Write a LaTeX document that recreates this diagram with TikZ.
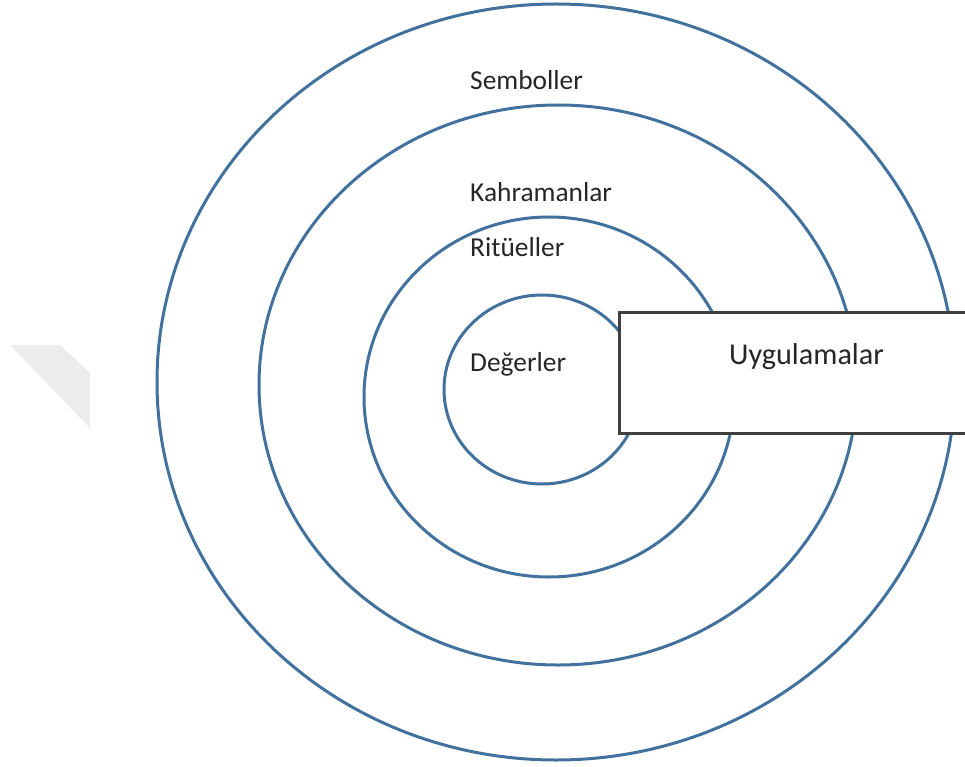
\documentclass[tikz,border=0pt]{standalone}
\usepackage{fontspec}
\setmainfont{Carlito}
\usetikzlibrary{shapes.geometric}
\definecolor{ringblue}{HTML}{41719C}
\definecolor{boxline}{HTML}{404040}
\definecolor{shadegray}{HTML}{ECECEC}
\tikzset{
  ring/.style={ellipse, draw=ringblue, line width=3pt, inner sep=0pt, fill=none},
  label/.style={anchor=base west, inner sep=0pt, text=black!85,
    font=\fontsize{27.4}{32}\selectfont},
  practice/.style={draw=boxline, line width=2.5pt, fill=white, inner sep=0pt}
}
\begin{document}
\begin{tikzpicture}[x=1pt, y=-1pt]
  \useasboundingbox (0,0) rectangle (965,767);
  \clip (0,0) rectangle (965,767);
  % soft grey corner shape on the left
  \fill[shadegray] (10,345) -- (60,345) -- (90,373) -- (90,428) -- cycle;
  % onion rings, outermost first
  \node[ring, minimum width=798pt, minimum height=756pt] (symbols) at (556,382) {};
  \node[ring, minimum width=598pt, minimum height=560pt] (heroes) at (558,385) {};
  \node[ring, minimum width=370pt, minimum height=360pt] (rituals) at (549,397) {};
  \node[ring, minimum width=196pt, minimum height=189pt] (values) at (542,389.5) {};
  % practices bar cutting through the rings
  \node[practice, anchor=north west, minimum width=360pt, minimum height=121pt]
    (practices) at (618,311) {};
  % layer names
  \node[label] (tsym) at (470,90) {Semboller};
  \node[label] (thero) at (470,201.5) {Kahramanlar};
  \node[label] (trit) at (470,256) {Ritüeller};
  \node[label] (tval) at (470,371.5) {Değerler};
  \node[label, font=\fontsize{30.2}{35}\selectfont] (tprac) at (729,364) {Uygulamalar};
\end{tikzpicture}
\end{document}
